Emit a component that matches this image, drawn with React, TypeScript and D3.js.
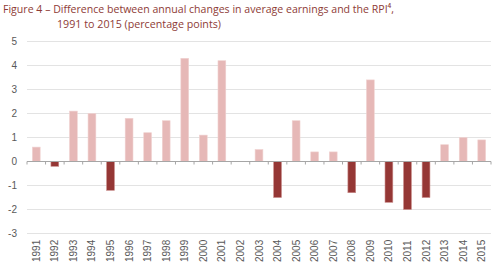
import React from "react";
import * as d3 from "d3";

const years = [
  "1991", "1992", "1993", "1994", "1995", "1996", "1997", "1998", "1999", "2000",
  "2001", "2002", "2003", "2004", "2005", "2006", "2007", "2008", "2009", "2010",
  "2011", "2012", "2013", "2014", "2015",
];
const differences = [
  0.6, -0.2, 2.1, 2.0, -1.2, 1.8, 1.2, 1.7, 4.3, 1.1,
  4.2, 0, 0.5, -1.5, 1.7, 0.4, 0.4, -1.3, 3.4, -1.7,
  -2.0, -1.5, 0.7, 1.0, 0.9,
];
const yTicks = [5, 4, 3, 2, 1, 0, -1, -2, -3];

const W = 500;
const H = 270;
const left = 27;
const right = 491;
const top = 41.5;
const bottom = 233.5;

export default function App() {
  const x = d3.scaleBand<string>().domain(years).range([left, right]).paddingInner(0.58).paddingOuter(0.29);
  const band = d3.scaleBand<string>().domain(years).range([left, right]);
  const y = d3.scaleLinear().domain([-3, 5]).range([bottom, top]);
  const y0 = y(0);

  return (
    <svg width={W} height={H} style={{ position: "absolute", left: 0, top: 0, background: "#fff" }}>
      <g fontFamily="Open Sans, sans-serif" fill="#8e3b36" fontSize={11.5}>
        <text x={3} y={13} textLength={391} lengthAdjust="spacingAndGlyphs">
          {"Figure 4 – Difference between annual changes in average earnings and the RPI\u2074,"}
        </text>
        <text x={57} y={28} textLength={164} lengthAdjust="spacingAndGlyphs">
          1991 to 2015 (percentage points)
        </text>
      </g>
      {yTicks.map((t) => (
        <g key={t}>
          {t !== 0 && (
            <line x1={left} x2={right} y1={y(t)} y2={y(t)} stroke="#e3e3e3" strokeWidth={1} />
          )}
          <text
            x={17}
            y={y(t) + 3.5}
            textAnchor="end"
            fontFamily="Liberation Sans, Arial, sans-serif"
            fontSize={10}
            fill="#595959"
          >
            {t}
          </text>
        </g>
      ))}
      {years.map((yr, i) => {
        const v = differences[i];
        if (v === 0) return null;
        const neg = v < 0;
        return (
          <rect
            key={yr}
            x={x(yr)}
            width={x.bandwidth()}
            y={Math.min(y(v), y0)}
            height={Math.abs(y(v) - y0)}
            fill={neg ? "#953735" : "#e6b8b7"}
            stroke={neg ? "#c98b89" : "#f0d2d1"}
            strokeWidth={0.6}
          />
        );
      })}
      <line x1={left} x2={right} y1={y0} y2={y0} stroke="#a6a6a6" strokeWidth={1} />
      {years.map((yr) => (
        <line
          key={"t" + yr}
          x1={band(yr)}
          x2={band(yr)}
          y1={y0}
          y2={y0 + 3}
          stroke="#a6a6a6"
          strokeWidth={1}
        />
      ))}
      <line x1={right} x2={right} y1={y0} y2={y0 + 3} stroke="#a6a6a6" strokeWidth={1} />
      {years.map((yr) => {
        const cx = (band(yr) as number) + band.bandwidth() / 2;
        return (
          <text
            key={"l" + yr}
            transform={`translate(${cx + 3.5},262) rotate(-90)`}
            fontFamily="Liberation Sans, Arial, sans-serif"
            fontSize={10}
            fill="#595959"
          >
            {yr}
          </text>
        );
      })}
    </svg>
  );
}
